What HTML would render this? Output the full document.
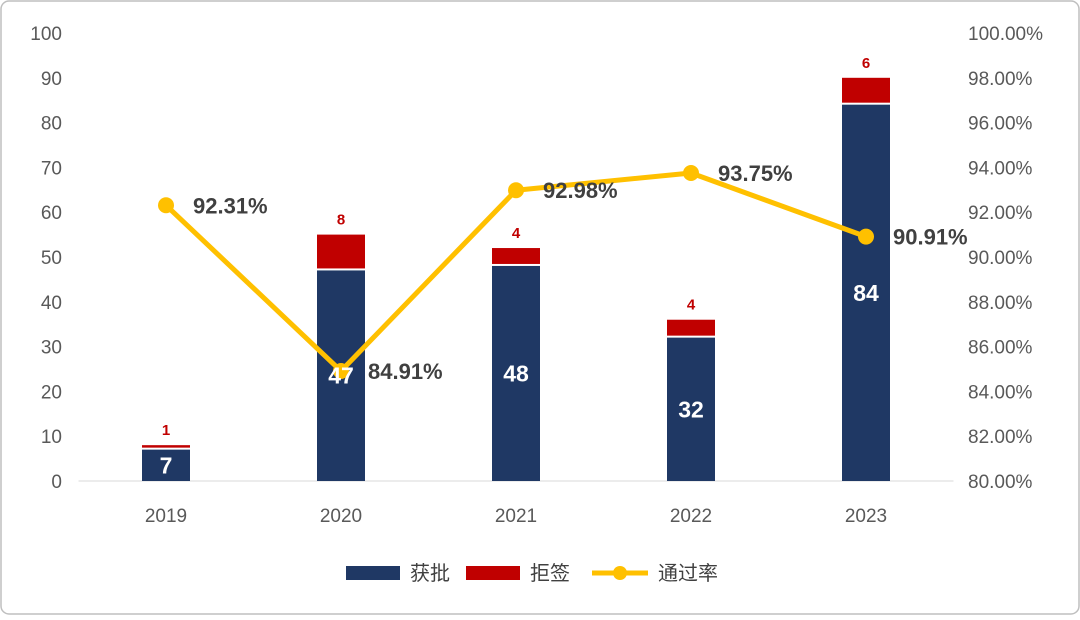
<!DOCTYPE html>
<html><head><meta charset="utf-8">
<style>
body{margin:0;background:#fff;}
#wrap{position:relative;width:1080px;height:615px;}
svg text{font-family:"Liberation Sans","Noto Sans CJK SC",sans-serif;}
</style></head>
<body>
<div id="wrap">
<svg id="chart" width="1080" height="615" xmlns="http://www.w3.org/2000/svg">
<rect x="1" y="1" width="1078" height="613" rx="8" fill="#fff" stroke="#bfbfbf" stroke-width="1.5"/>
<g id="axes"></g><g id="bars"></g><g id="line"></g><g id="labels"></g>
<g id="legend">
<rect x="346" y="566" width="54" height="14" fill="#1f3864"/>
<text x="410" y="580" font-size="20" fill="#404040">获批</text>
<rect x="466" y="566" width="54" height="14" fill="#c00000"/>
<text x="530" y="580" font-size="20" fill="#404040">拒签</text>
<line x1="592" y1="573" x2="648" y2="573" stroke="#ffc000" stroke-width="5"/>
<circle cx="620" cy="573" r="7" fill="#ffc000"/>
<text x="658" y="580" font-size="20" fill="#404040">通过率</text>
</g>
</svg>
</div>
<script>
const categories=["2019","2020","2021","2022","2023"];
const approved=[7,47,48,32,84];
const rejected=[1,8,4,4,6];
const rate=[92.31,84.91,92.98,93.75,90.91];
const leftTicks=[0,10,20,30,40,50,60,70,80,90,100];
const rightTicks=[80,82,84,86,88,90,92,94,96,98,100];

const NS="http://www.w3.org/2000/svg";
const x0=78.5,x1=953.5,yB=481,yT=33;
const band=(x1-x0)/categories.length;
const xC=i=>x0+band*(i+0.5);
const yL=v=>yB-(v/100)*(yB-yT);
const yR=v=>yB-((v-80)/20)*(yB-yT);
function mk(tag,attrs,parent,txt){const e=document.createElementNS(NS,tag);for(const k in attrs)e.setAttribute(k,attrs[k]);if(txt!==undefined)e.textContent=txt;document.getElementById(parent).appendChild(e);return e;}

// axes
let e=mk("line",{x1:x0,y1:yB,x2:x1,y2:yB,stroke:"#d9d9d9","stroke-width":1},"axes");


leftTicks.forEach(v=>{const t=mk("text",{x:62,y:yL(v)+7,"font-size":19,fill:"#595959","text-anchor":"end"},"axes",String(v));

});
rightTicks.forEach(v=>{const t=mk("text",{x:968,y:yR(v)+7,"font-size":19,fill:"#595959"},"axes",v.toFixed(2)+"%");

});
categories.forEach((c,i)=>{const t=mk("text",{x:xC(i),y:522,"font-size":19,fill:"#595959","text-anchor":"middle"},"axes",c);

});

// bars
const bw=48;
categories.forEach((c,i)=>{
 const a=mk("rect",{x:xC(i)-bw/2,y:yL(approved[i]),width:bw,height:yB-yL(approved[i]),fill:"#1f3864"},"bars");
 
 
 const top=approved[i]+rejected[i];
 const r=mk("rect",{x:xC(i)-bw/2,y:yL(top),width:bw,height:yL(approved[i])-yL(top)-2,fill:"#c00000"},"bars");
 
 
 const la=mk("text",{x:xC(i),y:(yL(approved[i])+yB)/2+8,"font-size":23,"font-weight":"bold",fill:"#fff","text-anchor":"middle"},"labels",String(approved[i]));
 
 
 const lr=mk("text",{x:xC(i),y:yL(top)-10,"font-size":15,"font-weight":"bold",fill:"#c00000","text-anchor":"middle"},"labels",String(rejected[i]));
 
 
});

// line
const pts=rate.map((v,i)=>xC(i)+","+yR(v)).join(" ");
const pl=mk("polyline",{points:pts,fill:"none",stroke:"#ffc000","stroke-width":5,"stroke-linejoin":"round"},"line");


rate.forEach((v,i)=>{
 const c=mk("circle",{cx:xC(i),cy:yR(v),r:8,fill:"#ffc000"},"line");
 
 
 const t=mk("text",{x:xC(i)+27,y:yR(v)+8,"font-size":22,"font-weight":"bold",fill:"#404040"},"labels",v.toFixed(2)+"%");
 
 
});
</script>
</body></html>
